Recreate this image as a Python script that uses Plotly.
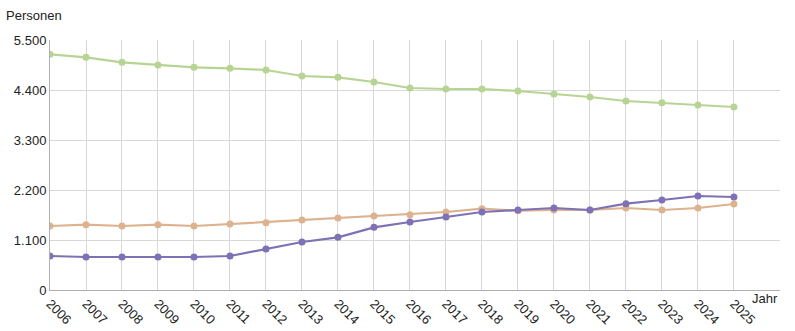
import plotly.graph_objects as go

years = list(range(2006, 2026))
green = [5185, 5119, 5009, 4950, 4899, 4877, 4840, 4708, 4679, 4576,
         4444, 4422, 4422, 4378, 4312, 4246, 4158, 4121, 4070, 4026]
tan = [1408, 1437, 1408, 1437, 1408, 1452, 1481, 1540, 1584, 1628,
       1657, 1716, 1789, 1745, 1760, 1760, 1804, 1760, 1804, 1892]
purple = [748, 726, 726, 726, 726, 748, 902, 1056, 1159, 1379,
          1496, 1606, 1716, 1760, 1804, 1760, 1899, 1980, 2068, 2046]
y_ticks = [0, 1100, 2200, 3300, 4400, 5500]
y_labels = ["0", "1.100", "2.200", "3.300", "4.400", "5.500"]

series = [
    ("green", green, "#b8d494"),
    ("tan", tan, "#ddb38f"),
    ("purple", purple, "#7e71b5"),
]

fig = go.Figure()
for name, vals, col in series:
    fig.add_trace(go.Scatter(
        x=years, y=vals, mode="lines+markers", name=name,
        line=dict(color=col, width=2.2),
        marker=dict(color=col, size=7),
        showlegend=False,
    ))

font = dict(family="Liberation Sans, Arial, sans-serif", size=13, color="#222")
fig.update_layout(
    width=795, height=331,
    margin=dict(l=50, r=15, t=40, b=41, autoexpand=False),
    paper_bgcolor="white", plot_bgcolor="white",
    font=font,
    xaxis=dict(
        range=[2006, 2026.28], tickvals=years, ticktext=[str(y) for y in years],
        tickangle=45, showgrid=True, gridcolor="#d8d8d8", gridwidth=1,
        showline=True, linecolor="#b0b0b0", linewidth=1, zeroline=False,
        ticks="", tickfont=dict(size=13), automargin=False,
    ),
    yaxis=dict(
        range=[0, 5500], tickvals=y_ticks, ticktext=y_labels,
        showgrid=True, gridcolor="#d8d8d8", gridwidth=1,
        showline=True, linecolor="#b0b0b0", linewidth=1, zeroline=False,
        ticks="", tickfont=dict(size=13), automargin=False,
    ),
    annotations=[
        dict(text="Personen", xref="paper", yref="paper", x=-46/730, y=1 + 24/250,
             xanchor="left", yanchor="middle", showarrow=False, font=dict(size=13)),
        dict(text="Jahr", xref="paper", yref="paper", x=1.0, y=-8/250,
             xanchor="right", yanchor="middle", showarrow=False, font=dict(size=13)),
    ],
)
fig.write_html("out.html")
